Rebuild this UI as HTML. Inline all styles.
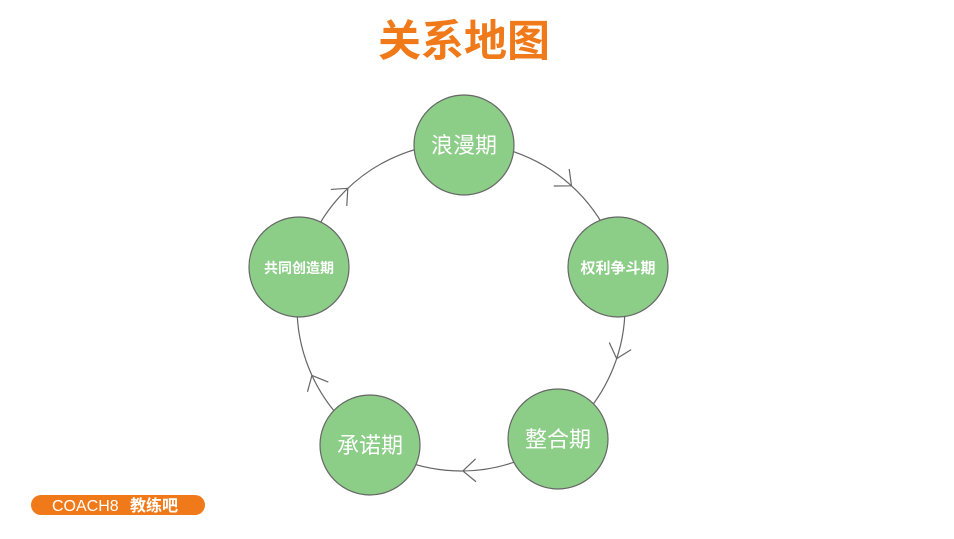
<!DOCTYPE html>
<html><head><meta charset="utf-8"><style>
body{margin:0;width:954px;height:534px;background:#fff;overflow:hidden;font-family:"Liberation Sans","Noto Sans CJK SC",sans-serif}
</style></head><body>
<svg width="954" height="534" viewBox="0 0 954 534" xmlns="http://www.w3.org/2000/svg">
<text x="464" y="56" text-anchor="middle" font-family="Liberation Sans, Noto Sans CJK SC, sans-serif" font-size="43" font-weight="bold" fill="#f07a1a">关系地图</text>
<circle cx="461" cy="307" r="164" fill="none" stroke="#666" stroke-width="1.2"/>
<g fill="none" stroke="#666" stroke-width="1.2">
<g transform="rotate(42 461 307)"><path d="M449,132 L462,143 L449,155"/></g>
<g transform="rotate(108 461 307)"><path d="M449,132 L462,143 L449,155"/></g>
<g transform="rotate(179 461 307)"><path d="M449,132 L462,143 L449,155"/></g>
<g transform="rotate(245 461 307)"><path d="M449,132 L462,143 L449,155"/></g>
<g transform="rotate(316 461 307)"><path d="M449,132 L462,143 L449,155"/></g>
</g>
<g fill="#8ccd88" stroke="#666" stroke-width="1.2">
<circle cx="464" cy="145" r="50"/>
<circle cx="618" cy="267" r="50"/>
<circle cx="558" cy="439" r="50"/>
<circle cx="370" cy="445" r="50"/>
<circle cx="299" cy="267" r="50"/>
</g>
<g fill="#fff" text-anchor="middle" font-family="Liberation Sans, Noto Sans CJK SC, sans-serif">
<text x="464" y="153" font-size="22">浪漫期</text>
<text x="618" y="273" font-size="15" font-weight="bold">权利争斗期</text>
<text x="558" y="447" font-size="22">整合期</text>
<text x="370" y="453" font-size="22">承诺期</text>
<text x="299" y="273" font-size="14" font-weight="bold">共同创造期</text>
</g>
<rect x="31" y="495" width="174" height="20" rx="10" fill="#f07a1a"/>
<text x="52" y="511" font-size="16" fill="#fff" font-family="Liberation Sans, Noto Sans CJK SC, sans-serif">COACH8</text>
<text x="130" y="511" font-size="16" font-weight="bold" fill="#fff" font-family="Liberation Sans, Noto Sans CJK SC, sans-serif">教练吧</text>
</svg>
</body></html>
